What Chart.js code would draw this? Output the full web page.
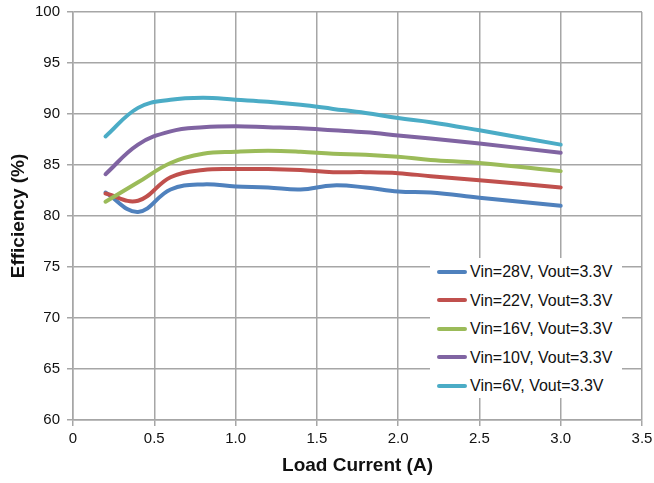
<!DOCTYPE html>
<html>
<head>
<meta charset="utf-8">
<script src="https://cdn.jsdelivr.net/npm/chart.js@4"></script>
<style>
  html, body { margin: 0; padding: 0; background: #fff; }
  #wrap { position: relative; width: 654px; height: 483px; }
  #legend {
    position: absolute; left: 430px; top: 258px; width: 192px; height: 140px;
    background: #fff; font-family: "Liberation Sans", Arial, sans-serif; font-size: 16px; color: #111;
  }
  .item { position: absolute; left: 7px; height: 20px; line-height: 20px; white-space: nowrap; }
  .swatch { display: inline-block; width: 30px; height: 4px; border-radius: 2px; vertical-align: middle; margin-right: 3px; position: relative; top: -1px; }
</style>
</head>
<body>
<div id="wrap">
  <canvas id="chart" width="654" height="483"></canvas>
  <div id="legend"></div>
</div>
<script>
const loadCurrent = [0.2, 0.4, 0.6, 0.8, 1.0, 1.2, 1.4, 1.6, 1.8, 2.0, 2.2, 2.5, 3.0]
const vin28 = [82.3, 80.4, 82.6, 83.1, 82.9, 82.8, 82.6, 83.0, 82.8, 82.4, 82.3, 81.8, 81.0]
const vin22 = [82.2, 81.5, 83.8, 84.5, 84.6, 84.6, 84.5, 84.3, 84.3, 84.2, 83.9, 83.5, 82.8]
const vin16 = [81.4, 83.3, 85.2, 86.1, 86.3, 86.4, 86.3, 86.1, 86.0, 85.8, 85.5, 85.2, 84.4]
const vin10 = [84.1, 87.0, 88.3, 88.7, 88.8, 88.7, 88.6, 88.4, 88.2, 87.9, 87.6, 87.1, 86.2]
const vin6 = [87.8, 90.6, 91.4, 91.6, 91.4, 91.2, 90.9, 90.5, 90.1, 89.6, 89.2, 88.4, 87.0]
const seriesLabels = ['Vin=28V, Vout=3.3V', 'Vin=22V, Vout=3.3V', 'Vin=16V, Vout=3.3V', 'Vin=10V, Vout=3.3V', 'Vin=6V, Vout=3.3V']
const seriesColors = ['#4f81bd', '#c0504d', '#9bbb59', '#8064a2', '#4bacc6']

const font = 'Liberation Sans'
const gridColor = '#a6a6a6'

const toPoints = (ys) => loadCurrent.map((x, i) => ({ x, y: ys[i] }))

const datasets = [vin28, vin22, vin16, vin10, vin6].map((ys, i) => ({
    label: seriesLabels[i],
    data: toPoints(ys),
    borderColor: seriesColors[i],
    backgroundColor: seriesColors[i],
    borderWidth: 4,
    borderCapStyle: 'round',
    borderJoinStyle: 'round',
    pointRadius: 0,
    tension: 0.4,
    order: 5 - i,
}))

const ctx = document.getElementById('chart').getContext('2d')
const chart = new Chart(ctx, {
    type: 'line',
    data: { datasets },
    options: {
        responsive: false,
        animation: false,
        events: [],
        layout: { padding: { top: 12, right: 12, left: 0, bottom: 0 } },
        plugins: { legend: { display: false }, tooltip: { enabled: false } },
        scales: {
            x: {
                type: 'linear',
                min: 0,
                max: 3.5,
                afterFit: (s) => { s.height = 63; s.paddingRight = 0 },
                ticks: { stepSize: 0.5, color: '#111', padding: 4, font: { family: font, size: 15 }, maxRotation: 0 },
                grid: { color: gridColor, lineWidth: 1.5, tickLength: 6 },
                border: { color: gridColor, width: 1.5 },
                title: { display: true, text: 'Load Current (A)', color: '#111', padding: { top: 6, bottom: 6 }, font: { family: font, size: 19, weight: 'bold' } },
            },
            y: {
                min: 60,
                max: 100,
                afterFit: (s) => { s.width = 73; s.paddingTop = 0; s.paddingBottom = 0 },
                ticks: { stepSize: 5, color: '#111', padding: 7, font: { family: font, size: 15 } },
                grid: { color: gridColor, lineWidth: 1.5, tickLength: 6 },
                border: { color: gridColor, width: 1.5 },
                title: { display: true, text: 'Efficiency (%)', color: '#111', padding: { top: 7, bottom: 7 }, font: { family: font, size: 19, weight: 'bold' } },
            },
        },
    },
})

const $legend = document.getElementById('legend')
datasets.forEach((ds, i) => {
    const row = document.createElement('div')
    row.className = 'item'
    row.style.top = (4 + i * 28.5) + 'px'
    row.innerHTML = `<span class="swatch" style="background:${ds.borderColor}"></span>${ds.label}`
    $legend.appendChild(row)
})
</script>
</body>
</html>
